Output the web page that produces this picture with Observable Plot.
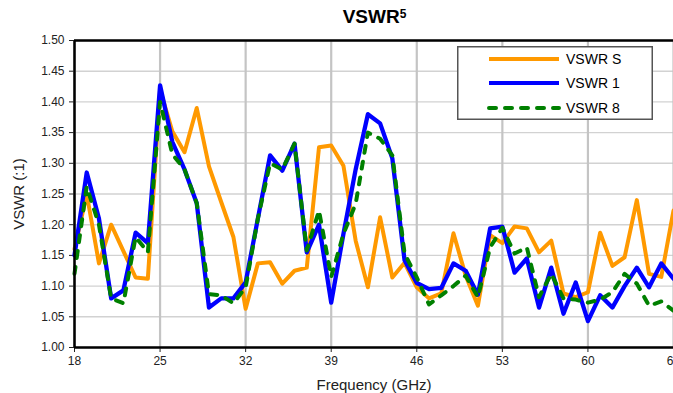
<!DOCTYPE html>
<html>
<head>
<meta charset="utf-8">
<script src="https://cdn.jsdelivr.net/npm/d3@7"></script>
<script src="https://cdn.jsdelivr.net/npm/@observablehq/plot@0.6"></script>
<style>
  body { margin: 0; background: #fff; overflow: hidden; font-family: "Liberation Sans", Arial, sans-serif; }
  #wrap { position: relative; width: 673px; height: 393px; overflow: hidden; background: #fff; }
  #title { position: absolute; left: 76px; right: 0; top: 6px; text-align: center; font-weight: bold; font-size: 19px; color: #000; line-height: 22px; }
  #title sup { font-size: 12px; vertical-align: top; position: relative; top: -3px; }
  #chart { position: absolute; left: 0; top: 30px; }
  #legend { position: absolute; left: 457px; top: 46px; }
  [aria-label="x-axis label"] text, [aria-label="y-axis label"] text { font-size: 15px; }
</style>
</head>
<body>
<div id="wrap">
  <div id="title">VSWR<sup>5</sup></div>
  <div id="chart"></div>
  <div id="legend"></div>
</div>
<script>
const freq = [18,19,20,21,22,23,24,25,26,27,28,29,30,31,32,33,34,35,36,37,38,39,40,41,42,43,44,45,46,47,48,49,50,51,52,53,54,55,56,57,58,59,60,61,62,63,64,65,66,67];
const vswrS = [1.16,1.25,1.137,1.20,1.157,1.114,1.112,1.42,1.352,1.318,1.39,1.295,1.237,1.18,1.063,1.137,1.139,1.104,1.125,1.13,1.326,1.329,1.296,1.174,1.098,1.212,1.114,1.138,1.098,1.08,1.088,1.186,1.117,1.068,1.183,1.17,1.197,1.194,1.155,1.174,1.088,1.082,1.09,1.187,1.133,1.147,1.24,1.12,1.115,1.223];
const vswr1 = [1.15,1.285,1.21,1.08,1.093,1.187,1.17,1.427,1.335,1.29,1.235,1.065,1.08,1.08,1.106,1.21,1.313,1.288,1.332,1.155,1.20,1.073,1.185,1.29,1.38,1.365,1.308,1.142,1.105,1.095,1.097,1.137,1.125,1.086,1.194,1.197,1.122,1.145,1.065,1.13,1.055,1.106,1.043,1.085,1.065,1.10,1.13,1.098,1.137,1.112];
const vswr8 = [1.12,1.262,1.20,1.08,1.072,1.18,1.155,1.40,1.315,1.29,1.235,1.087,1.085,1.072,1.098,1.21,1.30,1.29,1.332,1.158,1.223,1.115,1.185,1.234,1.35,1.34,1.313,1.153,1.114,1.07,1.085,1.10,1.117,1.082,1.163,1.195,1.153,1.163,1.082,1.12,1.08,1.078,1.073,1.078,1.09,1.12,1.104,1.068,1.075,1.06];
const seriesNames = ["VSWR S", "VSWR 1", "VSWR 8"];
const xTicks = [18,25,32,39,46,53,60,67];
const yTicks = [1.00,1.05,1.10,1.15,1.20,1.25,1.30,1.35,1.40,1.45,1.50];
const xDomain = [18, 67];
const yDomain = [1.00, 1.50];

const colors = ["#FF9900", "#0000FF", "#008000"];
const dashes = [null, null, "7,9"];

const rows = (vals) => freq.map((f, i) => ({f, v: vals[i]}));
const dS = rows(vswrS), d1 = rows(vswr1), d8 = rows(vswr8);

const chart = Plot.plot({
  width: 673,
  height: 363,
  marginTop: 10,
  marginBottom: 46,
  marginLeft: 74,
  marginRight: 0,
  style: { fontFamily: "'Liberation Sans', Arial, sans-serif", fontSize: "12px", color: "#222", background: "transparent", overflow: "visible" },
  x: { domain: xDomain, ticks: xTicks, tickSize: 5, tickPadding: 4, label: "Frequency (GHz)", labelAnchor: "center", labelArrow: "none", labelOffset: 42 },
  y: { domain: yDomain, ticks: yTicks, tickFormat: d3.format(".2f"), tickSize: 5, tickPadding: 5, label: "VSWR (:1)", labelAnchor: "center", labelArrow: "none", labelOffset: 61 },
  marks: [
    Plot.gridY(yTicks, { stroke: "#d2d2d2", strokeOpacity: 1, strokeWidth: 1.4 }),
    Plot.gridX(xTicks, { stroke: "#c4c4c4", strokeOpacity: 1, strokeWidth: 2.2 }),
    Plot.line(dS, { x: "f", y: "v", stroke: colors[0], strokeWidth: 4, strokeLinejoin: "round" }),
    Plot.line(d1, { x: "f", y: "v", stroke: colors[1], strokeWidth: 4.3, strokeLinejoin: "round" }),
    Plot.line(d8, { x: "f", y: "v", stroke: colors[2], strokeWidth: 4, strokeDasharray: dashes[2], strokeLinecap: "round", strokeLinejoin: "round" }),
    Plot.ruleX([xDomain[0]], { stroke: "#000", strokeWidth: 2.5 }),
    Plot.ruleY(yDomain, { stroke: "#000", strokeWidth: 2.5 })
  ]
});
document.getElementById("chart").appendChild(chart);

// Legend
const lw = 196, lh = 74;
const lg = d3.select("#legend").append("svg").attr("width", lw).attr("height", lh)
  .style("font-family", "'Liberation Sans', Arial, sans-serif");
lg.append("rect").attr("x", 0.75).attr("y", 0.75).attr("width", lw - 1.5).attr("height", lh - 1.5)
  .attr("fill", "#fff").attr("stroke", "#555").attr("stroke-width", 1.5);
const rowY = [13, 37, 62];
seriesNames.forEach((name, i) => {
  lg.append("line").attr("x1", 32).attr("x2", 102).attr("y1", rowY[i]).attr("y2", rowY[i])
    .attr("stroke", colors[i]).attr("stroke-width", 4)
    .attr("stroke-dasharray", dashes[i]).attr("stroke-linecap", dashes[i] ? "round" : "butt");
  lg.append("text").attr("x", 109).attr("y", rowY[i]).attr("dy", "0.35em")
    .attr("font-size", 14).attr("fill", "#000").text(name);
});
</script>
</body>
</html>
